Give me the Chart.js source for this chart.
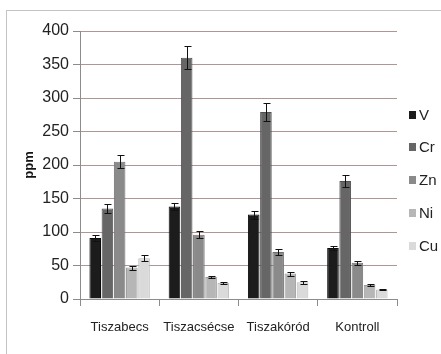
<!DOCTYPE html>
<html>
<head>
<meta charset="utf-8">
<script src="https://cdn.jsdelivr.net/npm/chart.js@4/dist/chart.umd.min.js"></script>
<style>
  html, body { margin: 0; padding: 0; background: #fff; overflow: hidden; }
  body { width: 441px; height: 354px; position: relative; }
  #frame { position: absolute; left: 6px; top: 10px; width: 500px; height: 400px; border: 1px solid #c4c4c4; box-sizing: border-box; }
  #wrap { position: absolute; left: 6px; top: 10px; width: 435px; height: 344px; }
</style>
</head>
<body>
<div id="frame"></div>
<div id="wrap"><canvas id="c" width="435" height="344"></canvas></div>
<script>
// Sampling sites and measured element concentrations (ppm), with error bars
const categories = ['Tiszabecs', 'Tiszacsécse', 'Tiszakóród', 'Kontroll'];
const seriesNames = ['V', 'Cr', 'Zn', 'Ni', 'Cu'];
const V  = [91, 138, 126, 76];
const Cr = [135, 360, 279, 176];
const Zn = [205, 96, 70, 54];
const Ni = [47, 33, 38, 21];
const Cu = [61, 24, 25, 14];
const errV  = [4, 5, 6, 3];
const errCr = [7, 17, 14, 9];
const errZn = [10, 5, 4, 3];
const errNi = [3, 2, 3, 1];
const errCu = [4, 1, 2, 1];
const yTicks = [0, 50, 100, 150, 200, 250, 300, 350, 400];

const values = [V, Cr, Zn, Ni, Cu];
const errors = [errV, errCr, errZn, errNi, errCu];
const fills = ['#1c1c1c', '#666666', '#8a8a8a', '#b6b6b6', '#dadada'];
const edges = ['#0a0a0a', '#505050', '#707070', '#9a9a9a', '#bcbcbc'];

const FONT = "'Liberation Sans', Arial, sans-serif";

// Error bars drawn with the chart's own scales
const errorBars = {
  id: 'errorBars',
  afterDatasetsDraw(chart) {
    const ctx = chart.ctx;
    const y = chart.scales.y;
    ctx.save();
    ctx.strokeStyle = '#111';
    ctx.lineWidth = 1;
    chart.data.datasets.forEach((ds, i) => {
      const meta = chart.getDatasetMeta(i);
      meta.data.forEach((bar, j) => {
        const v = ds.data[j], e = ds.err[j];
        const x = Math.round(bar.x) + 0.5;
        const yt = Math.round(y.getPixelForValue(v + e)) + 0.5;
        const yb = Math.round(y.getPixelForValue(v - e)) + 0.5;
        ctx.beginPath();
        ctx.moveTo(x, yt); ctx.lineTo(x, yb);
        ctx.moveTo(x - 3, yt); ctx.lineTo(x + 4, yt);
        ctx.moveTo(x - 3, yb); ctx.lineTo(x + 4, yb);
        ctx.stroke();
      });
    });
    ctx.restore();
  }
};

// Legend drawn beside the plot area
const sideLegend = {
  id: 'sideLegend',
  afterDraw(chart) {
    const ctx = chart.ctx;
    const x0 = chart.chartArea.right + 12;
    const ys = [105, 137, 170, 203, 236];
    ctx.save();
    ctx.font = '15px ' + FONT;
    ctx.textBaseline = 'middle';
    chart.data.datasets.forEach((ds, i) => {
      const yy = ys[i];
      ctx.fillStyle = ds.backgroundColor;
      ctx.fillRect(x0, yy - 4, 7, 8);
      ctx.fillStyle = '#222';
      ctx.fillText(ds.label, x0 + 10, yy + 1);
    });
    ctx.restore();
  }
};

new Chart(document.getElementById('c'), {
  type: 'bar',
  data: {
    labels: categories,
    datasets: seriesNames.map((n, i) => ({
      label: n,
      data: values[i],
      err: errors[i],
      backgroundColor: fills[i],
      borderColor: edges[i],
      borderWidth: 1,
      categoryPercentage: 0.77,
      barPercentage: 0.95
    }))
  },
  options: {
    responsive: false,
    animation: false,
    devicePixelRatio: 1,
    layout: { padding: { top: 21, right: 44, bottom: 0, left: 16 } },
    plugins: { legend: { display: false }, tooltip: { enabled: false } },
    scales: {
      x: {
        grid: { offset: true, drawOnChartArea: false, color: '#8c8c8c', tickLength: 7 },
        border: { color: '#8c8c8c' },
        ticks: { color: '#222', font: { family: FONT, size: 13 }, padding: 14, maxRotation: 0, minRotation: 0, autoSkip: false },
        afterFit(s) { s.height = 55; }
      },
      y: {
        min: 0, max: 400,
        afterBuildTicks(s) { s.ticks = yTicks.map(v => ({ value: v })); },
        grid: { color: '#ae9696', tickColor: '#8c8c8c', tickLength: 7 },
        border: { color: '#8c8c8c' },
        ticks: { color: '#222', font: { family: FONT, size: 16 }, padding: 4 },
        title: { display: true, text: 'ppm', color: '#111', font: { family: FONT, size: 13, weight: 'bold' }, padding: { top: 0, bottom: 4 } },
        afterFit(s) { s.width = 58; }
      }
    }
  },
  plugins: [errorBars, sideLegend]
});
</script>
</body>
</html>
